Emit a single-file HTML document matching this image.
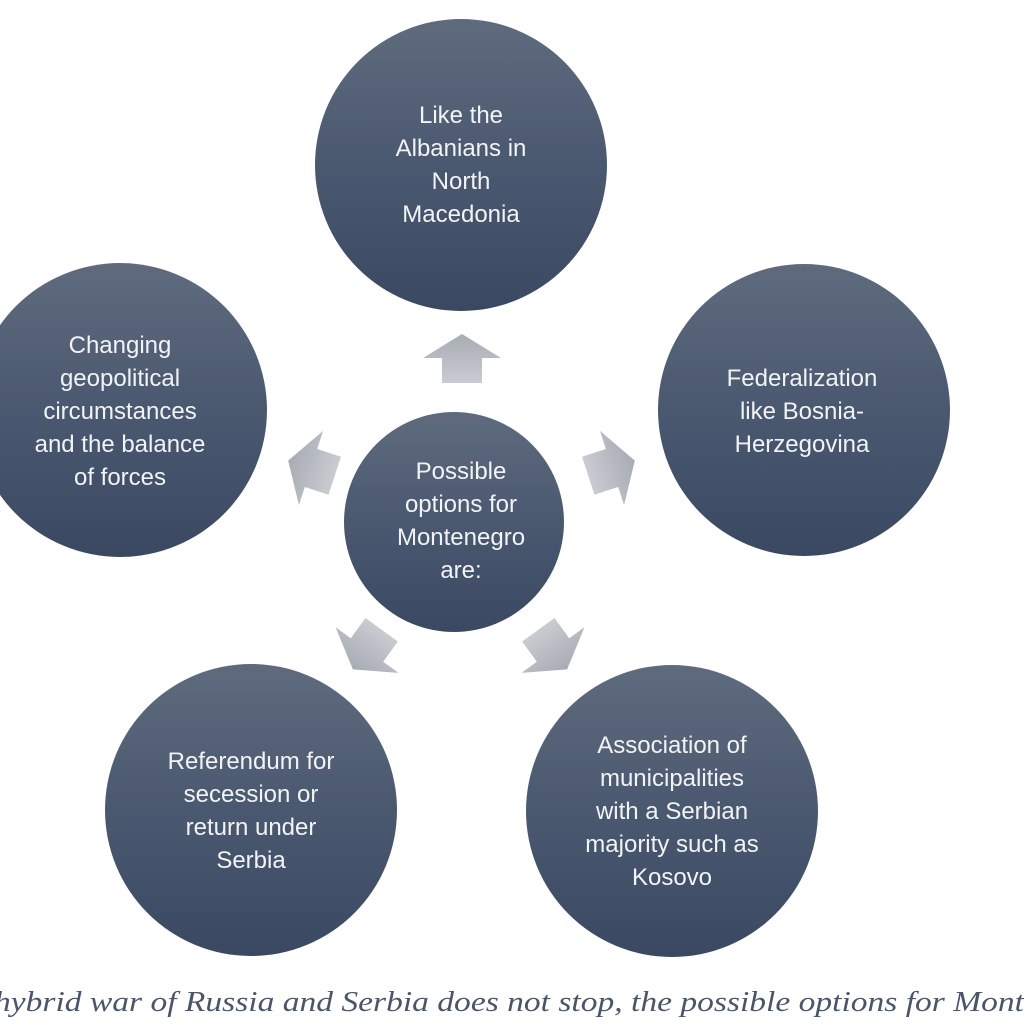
<!DOCTYPE html>
<html><head><style>
html,body{margin:0;padding:0;background:#fff;width:1024px;height:1024px;overflow:hidden}
</style></head><body>
<svg width="1024" height="1024" xmlns="http://www.w3.org/2000/svg">
<defs>
<linearGradient id="cg" x1="0" y1="0" x2="0" y2="1">
<stop offset="0" stop-color="#5f6b7d"/><stop offset="0.5" stop-color="#4a5870"/><stop offset="1" stop-color="#3a4862"/>
</linearGradient>
<linearGradient id="ag" x1="0" y1="-24" x2="0" y2="24" gradientUnits="userSpaceOnUse">
<stop offset="0" stop-color="#a7abb3"/><stop offset="1" stop-color="#c8cbd0"/>
</linearGradient>
<polygon id="arr" points="0,-24 39,0 20,0 20,25 -20,25 -20,0 -39,0" fill="url(#ag)"/>
</defs>
<g fill="url(#cg)">
<circle cx="461" cy="165" r="146"/>
<circle cx="804" cy="410" r="146"/>
<circle cx="120" cy="410" r="147"/>
<circle cx="251" cy="810" r="146"/>
<circle cx="672" cy="811" r="146"/>
<circle cx="454" cy="522" r="110"/>
</g>
<use href="#arr" transform="translate(462,358)"/>
<use href="#arr" transform="translate(612,468) rotate(72)"/>
<use href="#arr" transform="translate(553,650) rotate(144)"/>
<use href="#arr" transform="translate(367,650) rotate(216)"/>
<use href="#arr" transform="translate(311,468) rotate(288)"/>
<g fill="#f2f3f5" font-family="Liberation Sans, sans-serif" font-size="24" text-anchor="middle">
<text x="461" y="123">Like the</text><text x="461" y="156">Albanians in</text><text x="461" y="189">North</text><text x="461" y="222">Macedonia</text>
<text x="802" y="386">Federalization</text><text x="802" y="419">like Bosnia-</text><text x="802" y="452">Herzegovina</text>
<text x="120" y="353">Changing</text><text x="120" y="386">geopolitical</text><text x="120" y="419">circumstances</text><text x="120" y="452">and the balance</text><text x="120" y="485">of forces</text>
<text x="461" y="479">Possible</text><text x="461" y="512">options for</text><text x="461" y="545">Montenegro</text><text x="461" y="578">are:</text>
<text x="251" y="769">Referendum for</text><text x="251" y="802">secession or</text><text x="251" y="835">return under</text><text x="251" y="868">Serbia</text>
<text x="672" y="753">Association of</text><text x="672" y="786">municipalities</text><text x="672" y="819">with a Serbian</text><text x="672" y="852">majority such as</text><text x="672" y="885">Kosovo</text>
</g>
<text x="-6" y="1011" fill="#4a5568" font-family="Liberation Serif, serif" font-style="italic" font-size="28" textLength="1030" lengthAdjust="spacingAndGlyphs">hybrid war of Russia and Serbia does not stop, the possible options for Mont</text>
</svg>
</body></html>
